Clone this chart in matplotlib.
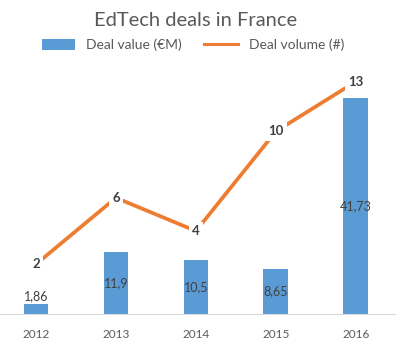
import matplotlib.pyplot as plt
from matplotlib.patches import Patch
from matplotlib.lines import Line2D

plt.rcParams['font.family'] = ['Lato', 'DejaVu Sans']

# data
years = ['2012', '2013', '2014', '2015', '2016']
dealValue = [1.86, 11.9, 10.5, 8.65, 41.73]
dealVolume = [2, 6, 4, 10, 13]

barColor = '#5B9BD5'
lineColor = '#ED7D31'
textColor = '#404040'

fig = plt.figure(figsize=(4.10, 3.53), dpi=100)
ax = fig.add_axes([0.0, 39 / 353, 395 / 410, 249 / 353])
x = list(range(len(years)))

bars = ax.bar(x, dealValue, width=0.31, color=barColor, zorder=2)
ax.set_ylim(0, 48)
ax.set_xlim(-0.45, 4.49)
ax.set_yticks([])
ax.set_xticks(x)
ax.set_xticklabels(years, fontsize=8.5, color='#595959')
ax.tick_params(axis='x', length=0, pad=11)
for side in ['top', 'right', 'left']:
	ax.spines[side].set_visible(False)
ax.spines['bottom'].set_color('#D9D9D9')

# bar labels: centred, or above when the bar is too short
for xi, v in zip(x, dealValue):
	lbl = ('%g' % v).replace('.', ',')
	if v < 5:
		ax.text(xi, v + 0.4, lbl, ha='center', va='bottom', fontsize=9, color=textColor, zorder=5)
	else:
		ax.text(xi, v / 2, lbl, ha='center', va='center', fontsize=9, color=textColor, zorder=5)

ax2 = ax.twinx()
ax2.set_ylim(-1, 14)
ax2.set_yticks([])
for side in ['top', 'right', 'left', 'bottom']:
	ax2.spines[side].set_visible(False)
ax2.plot(x, dealVolume, color=lineColor, linewidth=2.7, solid_capstyle='butt', zorder=2)
for xi, v in zip(x, dealVolume):
	ax2.text(xi, v, str(v), ha='center', va='center', fontsize=9.5, fontweight='bold',
		color=textColor, zorder=5,
		bbox=dict(facecolor='white', edgecolor='none', pad=2.5))

fig.text(196 / 410, 1 - 20 / 353, 'EdTech deals in France', ha='center', va='center',
	fontsize=14.5, color='#595959')

handles = [Patch(facecolor=barColor, edgecolor='none'),
	Line2D([0], [0], color=lineColor, linewidth=2.2)]
fig.legend(handles, ['Deal value (€M)', 'Deal volume (#)'], loc='center',
	bbox_to_anchor=(193 / 410, 1 - 45 / 353), ncol=2, frameon=False,
	fontsize=10, handlelength=2.4, handleheight=0.75, handletextpad=0.8,
	columnspacing=1.6, labelcolor='#595959')

fig.savefig('out.png', dpi=100)
